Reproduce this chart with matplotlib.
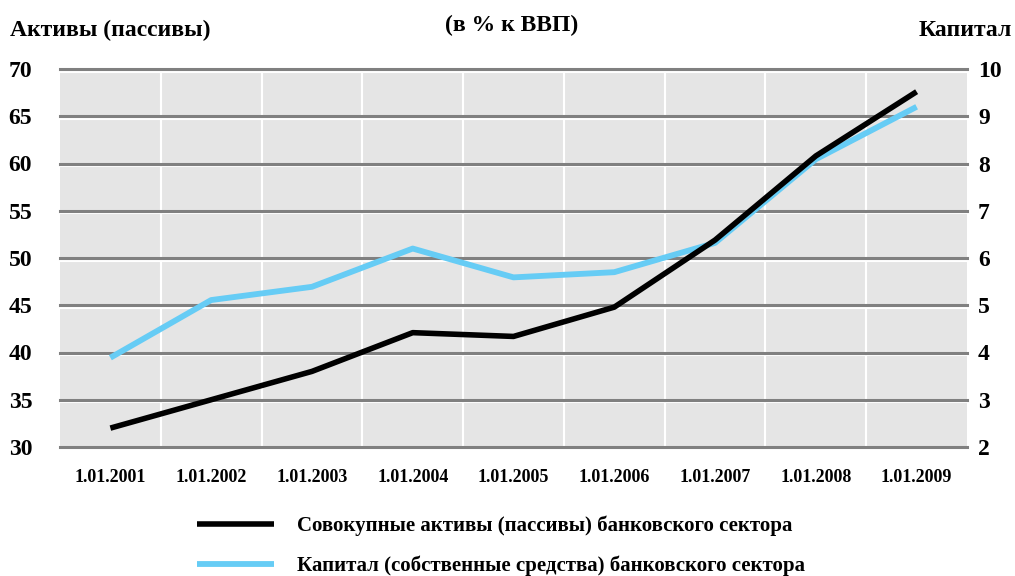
import numpy as np
import matplotlib.pyplot as plt
import matplotlib.transforms as mtransforms
from matplotlib.font_manager import FontProperties

dates = ['1.01.2001', '1.01.2002', '1.01.2003', '1.01.2004', '1.01.2005',
         '1.01.2006', '1.01.2007', '1.01.2008', '1.01.2009']
assets = [32.0, 35.0, 38.0, 42.1, 41.7, 44.8, 51.9, 60.8, 67.6]
capital = [3.89, 5.11, 5.39, 6.2, 5.59, 5.70, 6.32, 8.09, 9.2]
left_ticks = [30, 35, 40, 45, 50, 55, 60, 65, 70]
right_ticks = [2, 3, 4, 5, 6, 7, 8, 9, 10]

fp = dict(family='Liberation Serif', weight='bold')

fig = plt.figure(figsize=(10.15, 5.76), dpi=100)
ax = fig.add_axes([60 / 1015, 1 - 447 / 576, 907 / 1015, 378 / 576])
ax2 = ax.twinx()

x = np.arange(len(dates))
ax.set_xlim(-0.5, len(dates) - 0.5)
ax.set_ylim(30, 70)
ax2.set_ylim(2, 10)

# ax2 (capital) sits underneath and carries the background + grid
ax2.set_zorder(1)
ax.set_zorder(2)
ax.patch.set_visible(False)
ax2.patch.set_visible(True)
ax2.set_facecolor('#e5e5e5')

# vertical white separators between categories
for xb in np.arange(0.5, len(dates) - 0.5, 1):
    ax2.axvline(xb, color='white', lw=1.5, zorder=1)

# horizontal gray gridlines with a white line just under them
shift = mtransforms.offset_copy(ax2.transData, fig=fig, x=0, y=-2.5, units='dots')
for yv in right_ticks:
    ax2.plot([-0.5, len(dates) - 0.5], [yv, yv], color='white', lw=1.5,
             transform=shift, zorder=2, clip_on=False)
    ax2.axhline(yv, color='#808080', lw=2.2, zorder=3, clip_on=False)

ax.plot(x, assets, color='black', lw=4, zorder=5, solid_capstyle='butt',
        label='Совокупные активы (пассивы) банковского сектора')
ax2.plot(x, capital, color='#66ccf5', lw=4.2, zorder=4, solid_capstyle='butt',
         label='Капитал (собственные средства) банковского сектора')

for a in (ax, ax2):
    for s in a.spines.values():
        s.set_visible(False)
    a.tick_params(length=0)

ax.set_xticks(x)
ax.set_xticklabels(dates, fontsize=13, **fp)
ax.tick_params(axis='x', pad=16)
ax.set_yticks(left_ticks)
ax.set_yticklabels([str(v) for v in left_ticks], fontsize=17, **fp)
ax.tick_params(axis='y', pad=20)
ax2.set_yticks(right_ticks)
ax2.set_yticklabels([str(v) for v in right_ticks], fontsize=17, **fp)
ax2.tick_params(axis='y', pad=8)

fig.text(10 / 1015, 1 - 30 / 576, 'Активы (пассивы)', fontsize=17,
         ha='left', va='center', **fp)
fig.text(512 / 1015, 1 - 25 / 576, '(в % к ВВП)', fontsize=17,
         ha='center', va='center', **fp)
fig.text(1012 / 1015, 1 - 30 / 576, 'Капитал', fontsize=17,
         ha='right', va='center', **fp)

h1, l1 = ax.get_legend_handles_labels()
h2, l2 = ax2.get_legend_handles_labels()
leg = fig.legend(h1 + h2, l1 + l2, loc='center left',
                 bbox_to_anchor=(178 / 1015, 1 - 546 / 576), frameon=False,
                 handlelength=3.7, handletextpad=1.1, labelspacing=0.95,
                 prop=FontProperties(size=15, **fp))

fig.savefig('out.png', dpi=100, facecolor='white')
